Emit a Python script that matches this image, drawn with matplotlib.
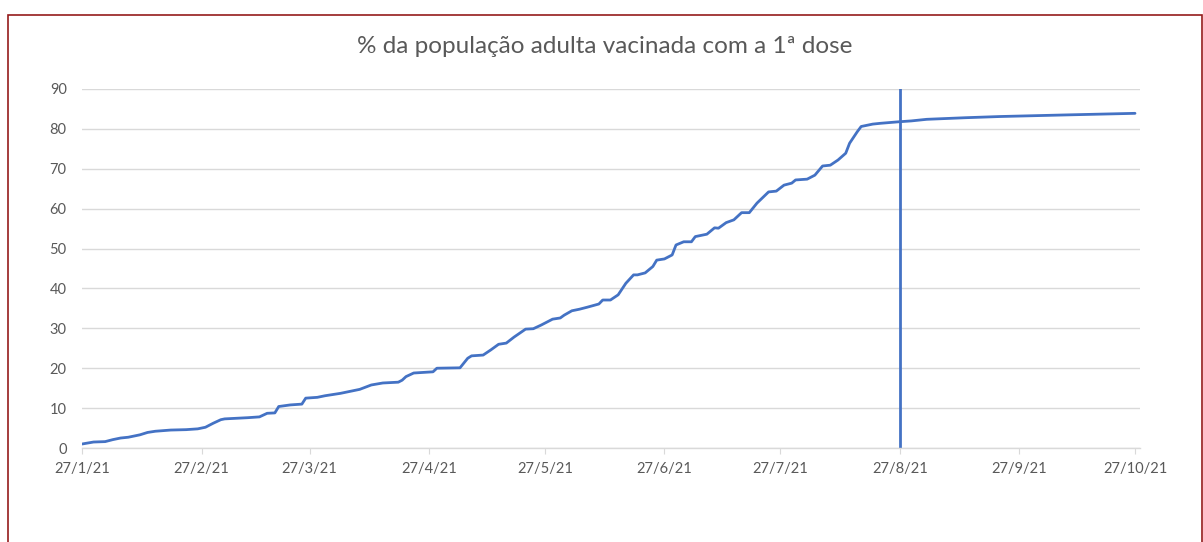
import matplotlib
matplotlib.use("Agg")
import matplotlib.pyplot as plt
import matplotlib.dates as mdates
import numpy as np
from matplotlib.patches import Rectangle

# % da população adulta vacinada com a 1ª dose
datas = ["2021-01-27", "2021-01-30", "2021-02-02", "2021-02-04", "2021-02-06", "2021-02-08",
         "2021-02-11", "2021-02-13", "2021-02-15", "2021-02-19", "2021-02-23", "2021-02-26",
         "2021-02-28", "2021-03-02", "2021-03-04", "2021-03-05", "2021-03-11", "2021-03-14",
         "2021-03-16", "2021-03-18", "2021-03-19", "2021-03-22", "2021-03-25", "2021-03-26",
         "2021-03-29", "2021-03-31", "2021-04-04", "2021-04-07", "2021-04-09", "2021-04-12",
         "2021-04-15", "2021-04-19", "2021-04-20", "2021-04-21", "2021-04-23", "2021-04-28",
         "2021-04-29", "2021-05-05", "2021-05-07", "2021-05-08", "2021-05-11", "2021-05-13",
         "2021-05-15", "2021-05-17", "2021-05-19", "2021-05-22", "2021-05-24", "2021-05-26",
         "2021-05-29", "2021-05-31", "2021-06-01", "2021-06-03", "2021-06-05", "2021-06-07",
         "2021-06-10", "2021-06-11", "2021-06-13", "2021-06-15", "2021-06-17", "2021-06-19",
         "2021-06-20", "2021-06-22", "2021-06-24", "2021-06-25", "2021-06-27", "2021-06-29",
         "2021-06-30", "2021-07-02", "2021-07-04", "2021-07-05", "2021-07-08", "2021-07-10",
         "2021-07-11", "2021-07-13", "2021-07-15", "2021-07-17", "2021-07-19", "2021-07-21",
         "2021-07-24", "2021-07-26", "2021-07-28", "2021-07-30", "2021-07-31", "2021-08-03",
         "2021-08-05", "2021-08-07", "2021-08-09", "2021-08-11", "2021-08-13", "2021-08-14",
         "2021-08-16", "2021-08-17", "2021-08-20", "2021-08-22", "2021-08-27", "2021-08-30",
         "2021-09-03", "2021-09-13", "2021-09-22", "2021-10-09", "2021-10-27"]
valores = [1.0, 1.5, 1.6, 2.1, 2.5, 2.7,
           3.3, 3.9, 4.2, 4.5, 4.6, 4.8,
           5.2, 6.2, 7.1, 7.3, 7.6, 7.8,
           8.7, 8.8, 10.4, 10.8, 11.0, 12.5,
           12.7, 13.1, 13.7, 14.3, 14.7, 15.8,
           16.3, 16.5, 17.0, 17.9, 18.8, 19.1,
           20.0, 20.1, 22.5, 23.1, 23.3, 24.6,
           26.0, 26.3, 27.8, 29.8, 29.9, 30.8,
           32.3, 32.6, 33.3, 34.4, 34.8, 35.3,
           36.1, 37.1, 37.1, 38.4, 41.3, 43.4,
           43.4, 43.9, 45.5, 47.1, 47.4, 48.4,
           50.9, 51.7, 51.7, 53.0, 53.6, 55.2,
           55.1, 56.5, 57.2, 59.0, 59.0, 61.4,
           64.2, 64.4, 65.9, 66.4, 67.2, 67.4,
           68.4, 70.7, 70.9, 72.2, 73.9, 76.4,
           79.3, 80.6, 81.2, 81.4, 81.8, 82.0,
           82.4, 82.8, 83.1, 83.5, 83.9]

marco_data = "2021-08-27"
marco_y = [0, 90]

ticks_x = ["2021-01-27", "2021-02-27", "2021-03-27", "2021-04-27", "2021-05-27",
           "2021-06-27", "2021-07-27", "2021-08-27", "2021-09-27", "2021-10-27"]
ticks_y = [0, 10, 20, 30, 40, 50, 60, 70, 80, 90]

azul = "#4472C4"
cinza = "#595959"
grelha = "#d9d9d9"

plt.rcParams['font.family'] = ['Lato', 'DejaVu Sans']

fig = plt.figure(figsize=(12.03, 5.42), dpi=100)
ax = fig.add_axes([82 / 1203, 1 - 448 / 542, (1140 - 82) / 1203, (448 - 89) / 542])

x = np.array(datas, dtype="datetime64[D]")
ax.plot(x, valores, color=azul, lw=2.0, solid_joinstyle="round", solid_capstyle="round")
mx = np.array([marco_data, marco_data], dtype="datetime64[D]")
ax.plot(mx, marco_y, color=azul, lw=2.0)

ax.set_xlim(np.datetime64("2021-01-27T00"), np.datetime64("2021-10-28T07"))
ax.set_ylim(0, 90)
ax.set_yticks(ticks_y)
ax.set_xticks(np.array(ticks_x, dtype="datetime64[D]"))
ax.xaxis.set_major_formatter(mdates.DateFormatter("%-d/%-m/%y"))

ax.grid(axis="y", color=grelha, lw=1.0)
ax.set_axisbelow(True)
for s in ["top", "right", "left"]:
    ax.spines[s].set_visible(False)
ax.spines["bottom"].set_color(grelha)
ax.spines["bottom"].set_linewidth(1.0)

ax.tick_params(axis="y", length=0, pad=11, labelsize=10.5, labelcolor=cinza)
ax.tick_params(axis="x", length=4, color=grelha, pad=6, labelsize=10.5, labelcolor=cinza)

fig.text(0.503, 0.915, "% da população adulta vacinada com a 1ª dose",
         ha="center", va="center", fontsize=17.5, color=cinza)

# moldura vermelha
borda = Rectangle((8 / 1203, -0.05), (1202 - 8) / 1203, 1 - 15 / 542 + 0.05,
                  transform=fig.transFigure, fill=False, edgecolor="#951b1b", lw=1.2)
fig.patches.append(borda)

fig.savefig("out.png", dpi=100)
